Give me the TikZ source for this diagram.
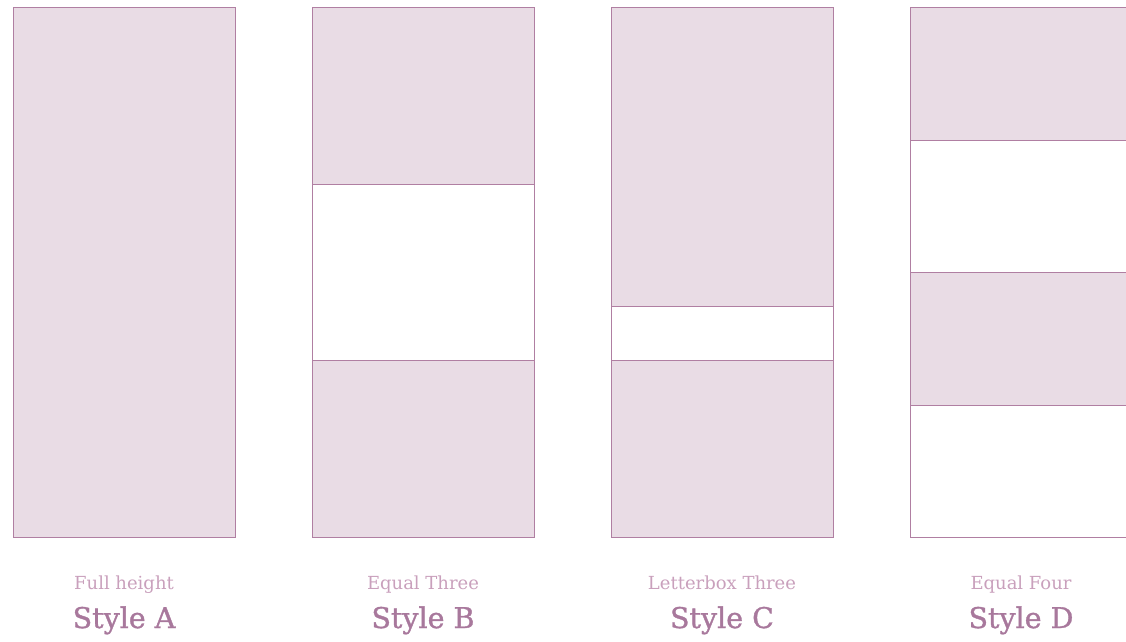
\documentclass[tikz,border=0pt]{standalone}
\usepackage{fontspec}
\setmainfont{DejaVu Serif}
\newfontfamily\headfont[FakeBold=1.2]{DejaVu Serif}
\begin{document}
\begin{tikzpicture}[x=1pt,y=1pt,
  panelfill/.style={fill=paneltint},
  panelline/.style={draw=panelstroke,line width=1pt},
  smalllabel/.style={anchor=base,text=smalltxt,font=\fontsize{18}{20}\selectfont,inner sep=0pt},
  biglabel/.style={anchor=base,text=bigtxt,font=\headfont\fontsize{28.5}{32}\selectfont,inner sep=0pt}]
\definecolor{paneltint}{HTML}{E9DCE5}
\definecolor{panelstroke}{HTML}{B07FA2}
\definecolor{smalltxt}{HTML}{C9A0BC}
\definecolor{bigtxt}{HTML}{A8789C}
\useasboundingbox (0,0) rectangle (1126,641);
\clip (0,0) rectangle (1126,641);
% Style A
\path[panelfill] (13,104) rectangle (235,633);
\draw[panelline] (13,104) rectangle (235,633);
% Style B
\path[panelfill] (312,456) rectangle (534,633);
\path[panelfill] (312,104) rectangle (534,281);
\draw[panelline] (312,104) rectangle (534,633);
\draw[panelline] (312,456) -- (534,456);
\draw[panelline] (312,281) -- (534,281);
% Style C
\path[panelfill] (611,335) rectangle (833,633);
\path[panelfill] (611,104) rectangle (833,281);
\draw[panelline] (611,104) rectangle (833,633);
\draw[panelline] (611,335) -- (833,335);
\draw[panelline] (611,281) -- (833,281);
% Style D
\path[panelfill] (910,500) rectangle (1140,633);
\path[panelfill] (910,236) rectangle (1140,369);
\draw[panelline] (910,104) rectangle (1140,633);
\draw[panelline] (910,500) -- (1140,500);
\draw[panelline] (910,369) -- (1140,369);
\draw[panelline] (910,236) -- (1140,236);
% labels
\node[smalllabel] (la) at (124,52) {Full height};
\node[biglabel] (ba) at (124,13) {Style A};
\node[smalllabel] (lb) at (423,52) {Equal Three};
\node[biglabel] (bb) at (423,13) {Style B};
\node[smalllabel] (lc) at (722,52) {Letterbox Three};
\node[biglabel] (bc) at (722,13) {Style C};
\node[smalllabel] (ld) at (1021,52) {Equal Four};
\node[biglabel] (bd) at (1021,13) {Style D};
\end{tikzpicture}
\end{document}
